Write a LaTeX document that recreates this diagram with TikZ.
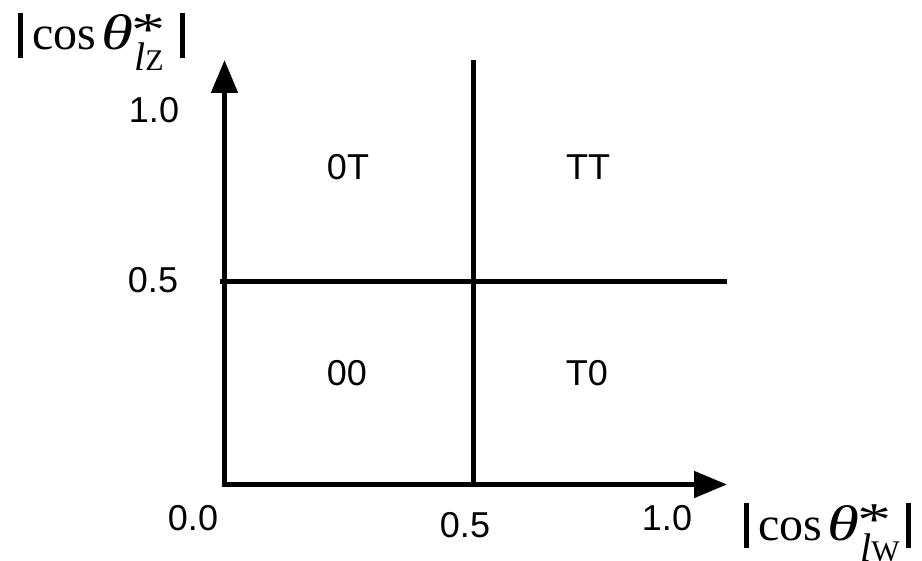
\documentclass[tikz,border=0pt]{standalone}
\usepackage{fontspec}
\setmainfont{Liberation Sans}
\newfontfamily\tms{Liberation Serif}
\usetikzlibrary{arrows.meta}
\tikzset{
  >={Triangle[length=33pt,width=26pt]},
  axis/.style={line width=5pt, line join=miter},
  tick/.style={font=\fontsize{36}{36}\selectfont, inner sep=0pt},
  region/.style={font=\fontsize{36}{36}\selectfont, inner sep=0pt},
  absbar/.style={line width=5pt},
  mathtxt/.style={inner sep=0pt, font=\tms\fontsize{48}{48}\selectfont}
}
% one axis label |cos theta*_{l X}|, drawn piece by piece; #1 = name prefix, #2 = subscript letter
\newcommand{\coslabel}[2]{%
  \coordinate (#1b1t) at (20.5,13); \coordinate (#1b1b) at (20.5,58);
  \coordinate (#1b2t) at (182.5,13); \coordinate (#1b2b) at (182.5,58);
  \draw[absbar] (#1b1t) -- (#1b1b);
  \draw[absbar] (#1b2t) -- (#1b2b);
  \node[mathtxt, anchor=base west] (#1cos) at (32,50) {cos};
  \node[mathtxt, anchor=base west, font=\tms\fontsize{50}{50}\selectfont\itshape] (#1th) at (101,50) {\scalebox{1.3}[1]{θ}};
  \node[mathtxt, anchor=north west, font=\tms\fontsize{47}{47}\selectfont] (#1st) at (131,15) {\scalebox{1.45}[1]{*}};
  \node[mathtxt, anchor=base west, font=\tms\fontsize{30}{30}\selectfont] (#1sub) at (134,71) {{\fontsize{40}{40}\selectfont\itshape l}#2};
}
\begin{document}
\begin{tikzpicture}[x=1pt,y=-1pt]
\useasboundingbox (0,0) rectangle (922,561);
\coordinate (ytip) at (224.5,60);
\coordinate (origin) at (224.5,484.5);
\coordinate (xtip) at (727,484.5);
\coordinate (vtop) at (473,60);
\coordinate (vbot) at (473,484.5);
\coordinate (hleft) at (220,282);
\coordinate (hright) at (727,282);
\draw[axis, <->] (ytip) -- (origin) -- (xtip);
\draw[axis] (vtop) -- (vbot);
\draw[axis] (hleft) -- (hright);
\node[tick] (y10) at (154,110) {1.0};
\node[tick] (y05) at (153,280) {0.5};
\node[tick] (x00) at (193,518) {0.0};
\node[tick] (x05) at (465,525) {0.5};
\node[tick] (x10) at (667,518) {1.0};
\node[region] (r0T) at (348,167) {0T};
\node[region] (rTT) at (588,167) {TT};
\node[region] (r00) at (347,373) {00};
\node[region] (rT0) at (587,373) {T0};
\begin{scope}
  \coslabel{yl}{Z}
\end{scope}
\begin{scope}[shift={(726,490)}]
  \coslabel{xl}{W}
\end{scope}
\end{tikzpicture}
\end{document}
